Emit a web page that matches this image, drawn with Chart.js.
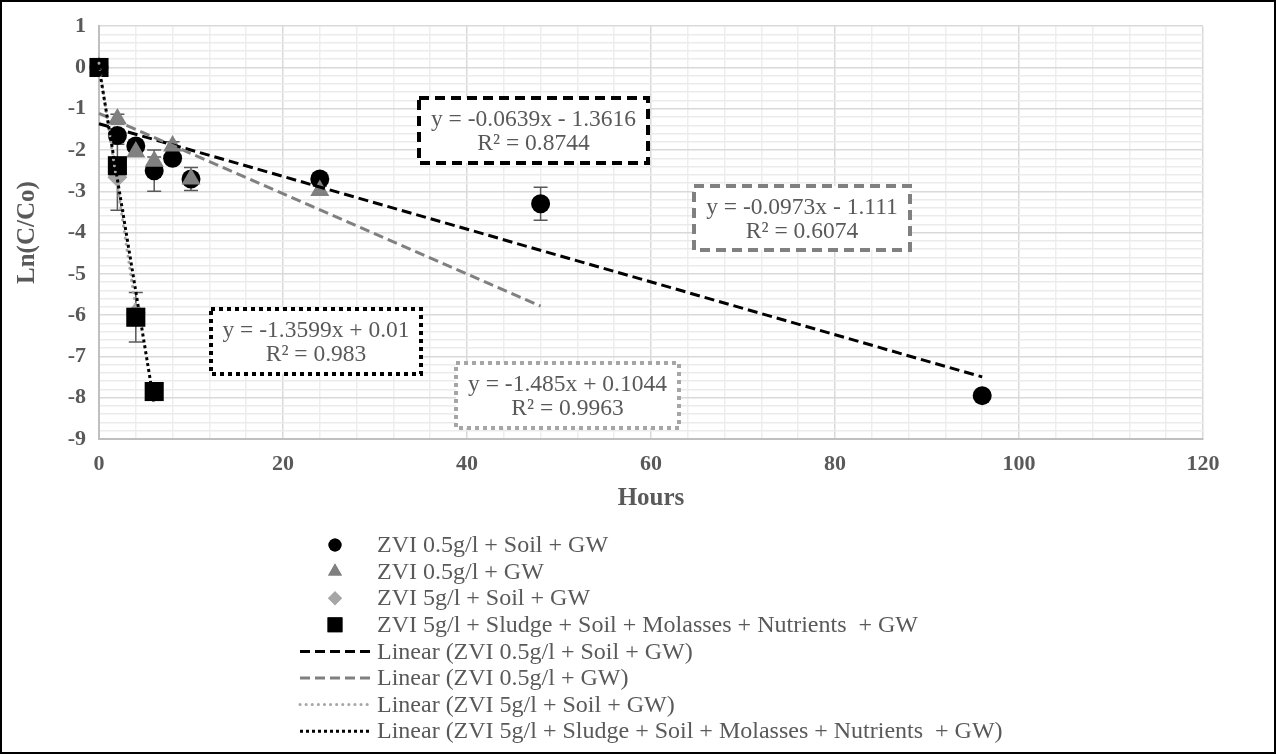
<!DOCTYPE html>
<html><head><meta charset="utf-8">
<script src="https://cdn.jsdelivr.net/npm/chart.js@4.4.0/dist/chart.umd.min.js"></script>
<style>html,body{margin:0;padding:0;background:#fff;}#wrap{position:relative;width:1276px;height:754px;}canvas{display:block;}</style>
</head><body><div id="wrap"><canvas id="c" width="1276" height="754"></canvas></div>
<script>
// ---- data ----
const seriesNames = ['ZVI 0.5g/l + Soil + GW', 'ZVI 0.5g/l + GW', 'ZVI 5g/l + Soil + GW', 'ZVI 5g/l + Sludge + Soil + Molasses + Nutrients  + GW'];
const hoursCircle = [0, 2, 4, 6, 8, 10, 24, 48, 96];
const lnCircle    = [0, -1.65, -1.9, -2.5, -2.2, -2.7, -2.7, -3.3, -7.95];
const errCircle   = [0, 0.15, 0.1, 0.5, 0.1, 0.28, 0.1, 0.4, 0];
const hoursTriangle = [0, 2, 4, 6, 8, 10, 24];
const lnTriangle    = [0, -1.25, -2.05, -2.27, -1.9, -2.7, -2.98];
const errTriangle   = [0, 0.12, 0.1, 0.1, 0.1, 0.1, 0.1];
const hoursDiamond = [0, 2, 4];
const lnDiamond    = [0, -2.66, -5.94];
const errDiamond   = [0, 0.8, 0];
const hoursSquare = [0, 2, 4, 6];
const lnSquare    = [0, -2.38, -6.05, -7.85];
const errSquare   = [0, 0, 0.6, 0];
const trendSlopes     = [-0.0639, -0.0973, -1.485, -1.3599];
const trendIntercepts = [-1.3616, -1.111, 0.1044, 0.01];
const trendR2         = ['0.8744', '0.6074', '0.9963', '0.983'];
const trendStart      = [0, 0, 0, 0];
const trendEnd        = [96, 48, 4, 6];
const xTickLabels = [0, 20, 40, 60, 80, 100, 120];
const yTickLabels = [1, 0, -1, -2, -3, -4, -5, -6, -7, -8, -9];

// ---- styles ----
const FONT = '"Liberation Serif", "Times New Roman", serif';
const TXT = '#595959';
const colors = ['#000000', '#808080', '#a6a6a6', '#000000'];
const styles = ['circle', 'triangle', 'rectRot', 'rect'];
const radii = [9.5, 11, 10, 13.5];
const trendDash = [[10, 5], [10, 5], [0.1, 6], [3, 3]];
const trendCap = ['butt', 'butt', 'round', 'butt'];

const pts = (xs, ys) => xs.map((x, i) => ({x, y: ys[i]}));
const seriesX = [hoursCircle, hoursTriangle, hoursDiamond, hoursSquare];
const seriesY = [lnCircle, lnTriangle, lnDiamond, lnSquare];
const seriesE = [errCircle, errTriangle, errDiamond, errSquare];

const datasets = [];
for (let i = 0; i < 4; i++) {
  datasets.push({
    label: seriesNames[i], data: pts(seriesX[i], seriesY[i]), showLine: false,
    pointStyle: styles[i], pointRadius: radii[i], pointHoverRadius: radii[i],
    backgroundColor: colors[i], borderColor: colors[i], pointBorderWidth: 0,
    order: 8 - i, clip: false
  });
}
for (let i = 0; i < 4; i++) {
  const f = x => trendSlopes[i] * x + trendIntercepts[i];
  datasets.push({
    type: 'line', label: 'Linear (' + seriesNames[i] + ')',
    data: [{x: trendStart[i], y: f(trendStart[i])}, {x: trendEnd[i], y: f(trendEnd[i])}],
    showLine: true, pointRadius: 0, borderWidth: 3, borderColor: colors[i],
    borderDash: trendDash[i], borderCapStyle: trendCap[i], fill: false,
    order: 4 - i, clip: false
  });
}

const isInt = v => Math.abs(v - Math.round(v)) < 1e-6;

const errorBars = {
  id: 'errorBars',
  beforeDatasetsDraw(chart) {
    const {ctx, scales: {x, y}} = chart;
    ctx.save();
    ctx.strokeStyle = '#595959';
    ctx.lineWidth = 1.5;
    for (let s = 0; s < 4; s++) {
      seriesX[s].forEach((hx, i) => {
        const e = seriesE[s][i];
        if (!e) return;
        const px = x.getPixelForValue(hx);
        const y1 = y.getPixelForValue(seriesY[s][i] + e);
        const y2 = y.getPixelForValue(seriesY[s][i] - e);
        ctx.beginPath();
        ctx.moveTo(px, y1); ctx.lineTo(px, y2);
        ctx.moveTo(px - 7, y1); ctx.lineTo(px + 7, y1);
        ctx.moveTo(px - 7, y2); ctx.lineTo(px + 7, y2);
        ctx.stroke();
      });
    }
    ctx.restore();
  }
};

// equation boxes per series: [left, top, width, height]
const boxRects = [[419, 98, 229, 65], [694, 186, 216, 64], [456, 363, 223, 65], [211, 309, 210, 65]];
const boxDash = [[10, 6], [10, 6], [4, 4], [4, 4]];
const fmt = (m, b) => 'y = ' + m + 'x ' + (b < 0 ? '- ' : '+ ') + Math.abs(b);

const overlay = {
  id: 'overlay',
  afterDraw(chart) {
    const ctx = chart.ctx;
    ctx.save();
    // equation boxes
    for (let i = 0; i < 4; i++) {
      const [l, t, w, h] = boxRects[i];
      ctx.fillStyle = '#fff';
      ctx.fillRect(l, t, w, h);
      ctx.setLineDash(boxDash[i]);
      ctx.lineWidth = 4;
      ctx.strokeStyle = colors[i];
      ctx.strokeRect(l, t, w, h);
      ctx.setLineDash([]);
      ctx.fillStyle = TXT;
      ctx.font = '23.5px ' + FONT;
      ctx.textAlign = 'center';
      ctx.textBaseline = 'middle';
      ctx.fillText(fmt(trendSlopes[i], trendIntercepts[i]), l + w / 2, t + 22);
      ctx.fillText('R² = ' + trendR2[i], l + w / 2, t + 46);
    }
    // legend
    const lx = 335, tx = 377, ly0 = 545, dy = 26.6;
    ctx.font = '24px ' + FONT;
    ctx.textAlign = 'left';
    ctx.textBaseline = 'middle';
    const legR = [6.5, 8, 7, 10.5];
    for (let i = 0; i < 4; i++) {
      const yy = ly0 + dy * i;
      ctx.fillStyle = colors[i];
      ctx.strokeStyle = colors[i];
      Chart.helpers.drawPoint(ctx, {pointStyle: styles[i], radius: legR[i], rotation: 0, borderWidth: 0}, lx, yy);
      ctx.fill();
      ctx.fillStyle = TXT;
      ctx.fillText(seriesNames[i], tx, yy + 1);
    }
    for (let i = 0; i < 4; i++) {
      const yy = ly0 + dy * (i + 4);
      ctx.beginPath();
      ctx.setLineDash(trendDash[i]);
      ctx.lineCap = trendCap[i];
      ctx.lineWidth = 3;
      ctx.strokeStyle = colors[i];
      ctx.moveTo(300, yy); ctx.lineTo(370, yy);
      ctx.stroke();
      ctx.setLineDash([]);
      ctx.lineCap = 'butt';
      ctx.fillStyle = TXT;
      ctx.fillText('Linear (' + seriesNames[i] + ')', tx, yy + 1);
    }
    // outer border
    ctx.lineWidth = 2;
    ctx.strokeStyle = '#000';
    ctx.strokeRect(1, 1, 1274, 752);
    ctx.restore();
  }
};

new Chart(document.getElementById('c'), {
  type: 'scatter',
  data: {datasets},
  options: {
    responsive: false, animation: false, devicePixelRatio: 1,
    layout: {padding: {left: 0, right: 73, top: 22, bottom: 235}},
    plugins: {legend: {display: false}, tooltip: {enabled: false}},
    scales: {
      x: {
        type: 'linear', min: 0, max: 120,
        afterFit(s) { s.height = 80; },
        ticks: {stepSize: 4, autoSkip: false, maxRotation: 0, padding: 12, color: TXT,
          font: {family: FONT, size: 22, weight: 'bold'},
          callback: v => (v % 20 === 0 && xTickLabels.includes(v)) ? String(v) : ''},
        grid: {drawTicks: false, color: c => (c.tick && c.tick.value % 20 === 0) ? '#d9d9d9' : '#eeeeee', lineWidth: 1.5},
        border: {display: true, color: '#bfbfbf', width: 2},
        title: {display: true, text: 'Hours', color: TXT, padding: {top: 0, bottom: 5},
          font: {family: FONT, size: 25, weight: 'bold'}}
      },
      y: {
        type: 'linear', min: -9, max: 1,
        afterFit(s) { s.width = 99; },
        ticks: {stepSize: 0.2, autoSkip: false, padding: 13, color: TXT,
          font: {family: FONT, size: 22, weight: 'bold'},
          callback: v => (isInt(v) && yTickLabels.includes(Math.round(v))) ? String(Math.round(v) + 0) : ''},
        grid: {drawTicks: false, color: c => (c.tick && isInt(c.tick.value)) ? '#d9d9d9' : '#ebebeb', lineWidth: 1.5},
        border: {display: true, color: '#bfbfbf', width: 2},
        title: {display: true, text: 'Ln(C/Co)', color: TXT, padding: {top: 13, bottom: 0},
          font: {family: FONT, size: 25, weight: 'bold'}}
      }
    }
  },
  plugins: [errorBars, overlay]
});
</script></body></html>
